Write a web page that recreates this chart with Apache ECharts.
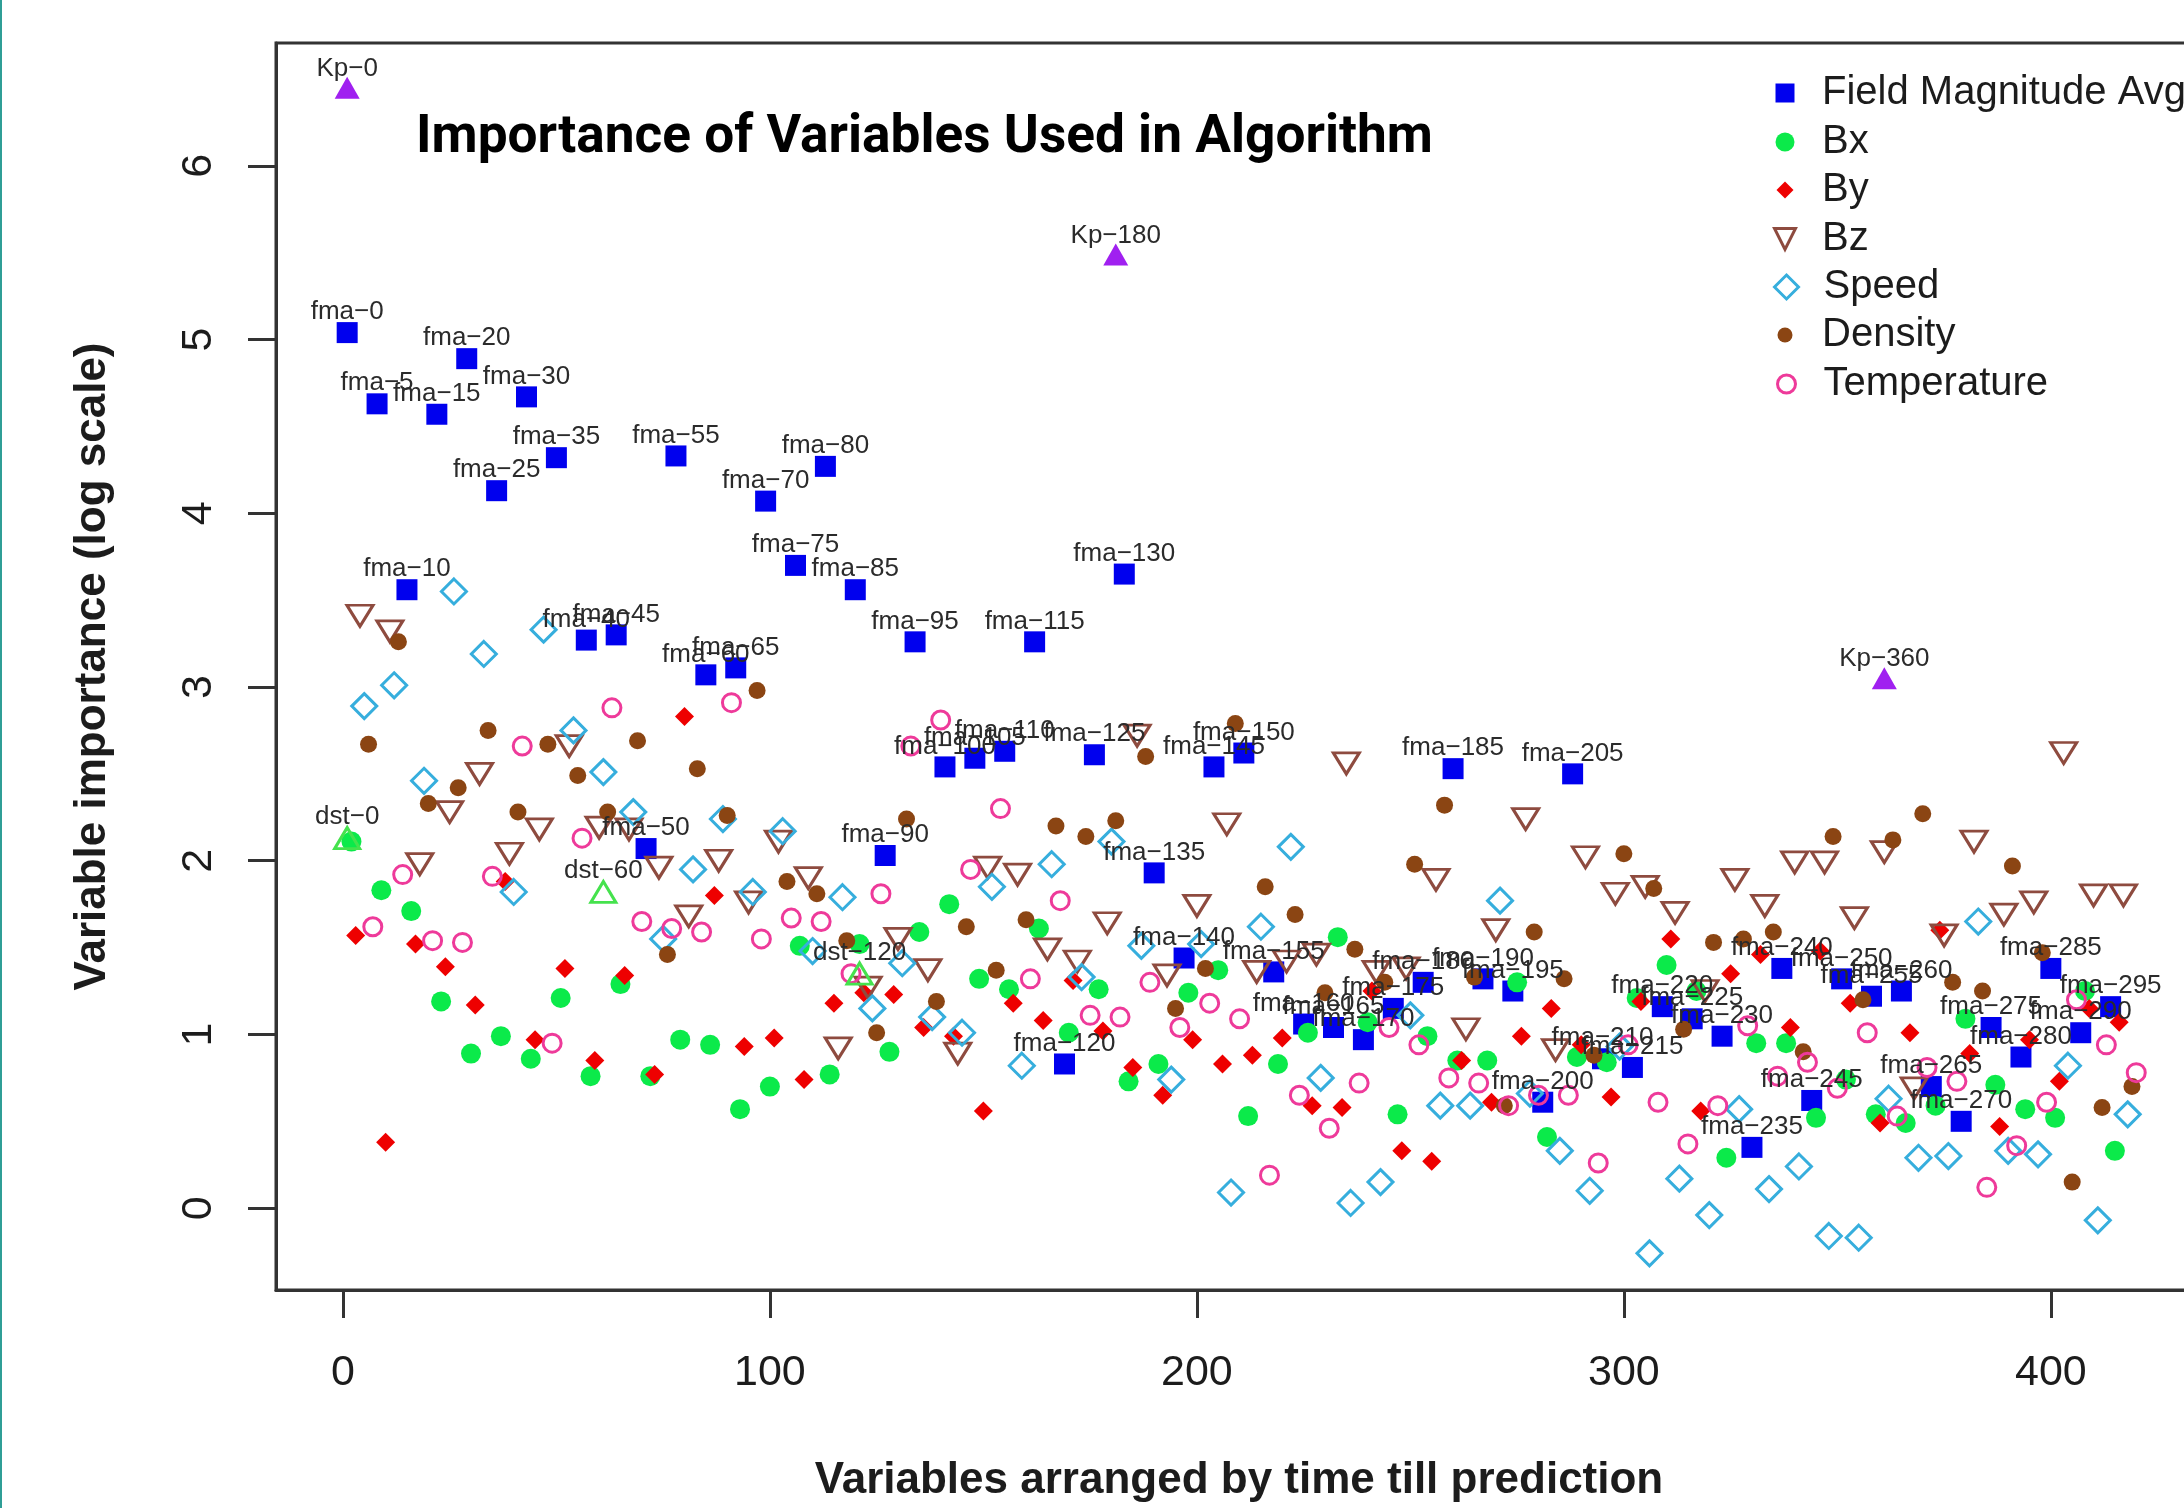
<!DOCTYPE html>
<html>
<head>
<meta charset="utf-8">
<title>Importance of Variables Used in Algorithm</title>
<script src="https://cdn.jsdelivr.net/npm/echarts@6/dist/echarts.min.js"></script>
<style>
html,body{margin:0;padding:0;background:#fff;overflow:hidden}
#stripe{position:absolute;left:0;top:0;width:2px;height:1508px;background:#2f9e96;z-index:5}
#chart{position:absolute;left:0;top:0;width:2184px;height:1508px}
</style>
</head>
<body>
<div id="stripe"></div>
<div id="chart"></div>
<script>
const xTicks = [0, 100, 200, 300, 400];
const yTicks = [0, 1, 2, 3, 4, 5, 6];

const chartTitle = 'Importance of Variables Used in Algorithm';
const xAxisTitle = 'Variables arranged by time till prediction';
const yAxisTitle = 'Variable importance (log scale)';

const fmaLabels = ['fma−0','fma−5','fma−10','fma−15','fma−20','fma−25','fma−30','fma−35','fma−40','fma−45',
  'fma−50','fma−55','fma−60','fma−65','fma−70','fma−75','fma−80','fma−85','fma−90','fma−95',
  'fma−100','fma−105','fma−110','fma−115','fma−120','fma−125','fma−130','fma−135','fma−140','fma−145',
  'fma−150','fma−155','fma−160','fma−165','fma−170','fma−175','fma−180','fma−185','fma−190','fma−195',
  'fma−200','fma−205','fma−210','fma−215','fma−220','fma−225','fma−230','fma−235','fma−240','fma−245',
  'fma−250','fma−255','fma−260','fma−265','fma−270','fma−275','fma−280','fma−285','fma−290','fma−295'];

const fieldMagnitudeAvg = [5.04,4.63,3.56,4.57,4.89,4.13,4.67,4.32,3.27,3.30,
  2.07,4.33,3.07,3.11,4.07,3.70,4.27,3.56,2.03,3.26,
  2.54,2.59,2.63,3.26,0.83,2.61,3.65,1.93,1.44,2.54,
  2.62,1.36,1.06,1.04,0.97,1.15,1.30,2.53,1.32,1.25,
  0.61,2.50,0.86,0.81,1.16,1.09,0.99,0.35,1.38,0.62,
  1.32,1.22,1.25,0.70,0.50,1.04,0.87,1.38,1.01,1.16];

const bx = [2.11,1.83,1.71,1.19,0.89,0.99,0.86,1.21,0.76,1.29,
  0.76,0.97,0.94,0.57,0.70,1.51,0.77,1.52,0.90,1.59,
  1.75,1.32,1.26,1.61,1.01,1.26,0.73,0.83,1.24,1.37,
  0.53,0.83,1.01,1.56,1.07,0.54,0.99,0.85,0.85,1.30,
  0.41,0.87,0.84,1.21,1.40,1.25,0.29,0.95,0.95,0.52,
  0.74,0.54,0.49,0.59,1.09,0.71,0.57,0.52,1.25,0.33];

const by = [1.57,0.38,1.52,1.39,1.17,1.88,0.97,1.38,0.85,1.34,
  0.77,2.83,1.80,0.93,0.98,0.74,1.18,1.24,1.23,1.04,
  0.99,0.56,1.18,1.08,1.31,1.02,0.81,0.65,0.97,0.83,
  0.88,0.98,0.59,0.58,1.25,0.33,0.27,0.85,0.61,0.99,
  1.15,0.94,0.64,1.19,1.55,0.56,1.35,1.46,1.04,1.48,
  1.18,0.49,1.01,1.60,0.89,0.47,0.97,0.73,1.15,1.07];

const bz = [3.41,3.32,1.98,2.28,2.50,2.04,2.18,2.66,2.19,2.18,
  1.96,1.68,2.00,1.76,2.11,1.90,0.92,1.27,1.55,1.37,
  0.89,1.96,1.92,1.49,1.42,1.64,2.72,1.34,1.74,2.21,
  1.36,1.42,1.46,2.56,1.36,1.38,1.89,1.03,1.60,2.24,
  0.91,2.02,1.81,1.85,1.70,1.25,1.89,1.74,1.99,1.99,
  1.67,2.05,0.69,1.57,2.11,1.69,1.76,2.62,1.80,1.80];

const speed = [2.89,3.01,2.46,3.55,3.19,1.82,3.33,2.75,2.51,2.28,
  1.55,1.95,2.24,1.82,2.17,1.48,1.79,1.15,1.41,1.10,
  1.01,1.85,0.82,1.98,1.33,2.11,1.51,0.74,1.52,0.09,
  1.62,2.08,0.75,0.03,0.15,1.11,0.59,0.59,1.77,0.66,
  0.33,0.10,0.93,-0.26,0.17,-0.04,0.57,0.11,0.24,-0.16,
  -0.17,0.63,0.29,0.30,1.65,0.33,0.31,0.82,-0.07,0.54];

const density = [2.67,3.26,2.33,2.42,2.75,2.28,2.67,2.49,2.28,2.69,
  1.46,2.53,2.26,2.98,1.88,1.81,1.54,1.01,2.24,1.19,
  1.62,1.37,1.66,2.20,2.14,2.23,2.60,1.15,1.38,2.79,
  1.85,1.69,1.24,1.49,1.30,1.98,2.32,1.33,0.59,1.59,
  1.32,0.88,2.04,1.84,1.03,1.53,1.55,1.59,0.90,2.14,
  1.20,2.12,2.27,1.30,1.25,1.97,1.47,0.15,0.58,0.70];

const temperature = [1.62,1.92,1.54,1.53,1.91,2.66,0.95,2.13,2.88,1.65,
  1.61,1.59,2.91,1.55,1.67,1.65,1.35,1.81,2.66,2.81,
  1.95,2.30,1.32,1.77,1.11,1.10,1.30,1.04,1.18,1.09,
  0.19,0.65,0.46,0.72,1.04,0.94,0.75,0.72,0.59,0.65,
  0.65,0.26,0.94,0.61,0.37,0.59,1.05,0.76,0.84,0.69,
  1.01,0.53,0.81,0.73,0.12,0.36,0.61,1.20,0.94,0.78];

const kpLabels = ['Kp−0','Kp−180','Kp−360'];
const kpIndex = [1, 181, 361];
const kpValues = [6.45, 5.49, 3.05];

const dstLabels = ['dst−0','dst−60','dst−120'];
const dstIndex = [1, 61, 121];
const dstValues = [2.13, 1.82, 1.35];

const legendNames = ['Field Magnitude Avg','Bx','By','Bz','Speed','Density','Temperature'];

function slotted(values, firstIndex) {
  return values.map((v, i) => [firstIndex + 7 * i, v]);
}
function paired(xs, ys) {
  return xs.map((x, i) => [x, ys[i]]);
}

const hollow = (c, w) => ({color: 'rgba(255,255,255,0)', borderColor: c, borderWidth: w, opacity: 1});
const filled = c => ({color: c, borderWidth: 0, opacity: 1});

const C = {blue:'#0000EE', green:'#0BEA4A', red:'#EE0000', bz:'#8E4B3F', speed:'#36AEDD',
           density:'#8B4513', temp:'#EE3A9A', kp:'#A020F0', dst:'#45E24D', ink:'#1c1c1c', label:'#2b2b2b'};

const textLabel = (names, dist) => ({
  show: true, position: 'top', distance: dist, fontFamily: 'Liberation Sans', fontSize: 26,
  color: C.label, formatter: p => names[p.dataIndex]
});

const series = [
  {name: legendNames[0], data: slotted(fieldMagnitudeAvg, 1), symbol: 'rect', symbolSize: 21,
   itemStyle: filled(C.blue), label: textLabel(fmaLabels, -3)},
  {name: legendNames[1], data: slotted(bx, 2), symbol: 'circle', symbolSize: 20, itemStyle: filled(C.green)},
  {name: legendNames[2], data: slotted(by, 3), symbol: 'diamond', symbolSize: 19, itemStyle: filled(C.red)},
  {name: legendNames[3], data: slotted(bz, 4), symbol: 'triangle', symbolRotate: 180, symbolSize: [26, 21],
   itemStyle: hollow(C.bz, 3)},
  {name: legendNames[4], data: slotted(speed, 5), symbol: 'diamond', symbolSize: 25, itemStyle: hollow(C.speed, 3)},
  {name: legendNames[5], data: slotted(density, 6), symbol: 'circle', symbolSize: 17, itemStyle: filled(C.density)},
  {name: legendNames[6], data: slotted(temperature, 7), symbol: 'circle', symbolSize: 18, itemStyle: hollow(C.temp, 3)},
  {name: 'Kp', data: paired(kpIndex, kpValues), symbol: 'triangle', symbolSize: [25, 22],
   itemStyle: filled(C.kp), label: textLabel(kpLabels, -5)},
  {name: 'dst', data: paired(dstIndex, dstValues), symbol: 'triangle', symbolSize: [25, 21],
   itemStyle: hollow(C.dst, 3), label: textLabel(dstLabels, -4)}
].map(s => Object.assign({type: 'scatter', silent: true, clip: false}, s));

const legendIcons = [
  {w: 19, h: 19, style: filled(C.blue)},
  {w: 19, h: 19, style: filled(C.green)},
  {w: 17, h: 17, style: filled(C.red)},
  {w: 24, h: 21, style: hollow(C.bz, 3), icon: 'path://M0 0L10 0L5 10Z'},
  {w: 24, h: 24, style: hollow(C.speed, 3)},
  {w: 15, h: 15, style: filled(C.density)},
  {w: 18, h: 18, style: hollow(C.temp, 3)}
];
const legendCenters = [93, 142, 190, 239, 287, 335, 384];
const ICON_CENTER = 1785, TEXT_LEFT = 1822;

const legends = legendNames.map((name, i) => {
  const ic = legendIcons[i];
  const textPad = TEXT_LEFT - (ICON_CENTER + ic.w / 2 + 5);
  const item = {name: name, itemStyle: ic.style};
  if (ic.icon) item.icon = ic.icon;
  return {
    show: true, orient: 'horizontal', left: ICON_CENTER - ic.w / 2, top: legendCenters[i] - 22, padding: 0,
    itemWidth: ic.w, itemHeight: ic.h, selectedMode: false,
    textStyle: {fontFamily: 'Liberation Sans', fontSize: 40, color: C.ink, lineHeight: 44, height: 44, padding: [0, 0, 0, textPad]},
    data: [item]
  };
});

const GRID = {left: 276, top: 43, width: 1926, height: 1247};

const axisStroke = {color: '#333333', width: 3};

const option = {
  animation: false,
  backgroundColor: '#ffffff',
  title: {
    text: chartTitle, left: 416, top: 112, padding: 0,
    textStyle: {fontFamily: 'Roboto', fontWeight: 'bold', fontSize: 53.2, color: '#000000'}
  },
  legend: legends,
  grid: Object.assign({show: true, borderColor: '#333333', borderWidth: 3, backgroundColor: 'transparent', containLabel: false, outerBoundsMode: 'none'}, GRID),
  xAxis: {
    type: 'value', min: -15.67, max: 435.4,
    name: xAxisTitle, nameLocation: 'middle', nameGap: 169,
    nameTextStyle: {fontFamily: 'Liberation Sans', fontWeight: 'bold', fontSize: 44, color: C.ink},
    axisLine: {show: true, onZero: false, lineStyle: axisStroke},
    axisTick: {show: true, length: 28, lineStyle: axisStroke, customValues: xTicks},
    axisLabel: {margin: 62, fontFamily: 'Liberation Sans', fontSize: 43, color: C.ink, customValues: xTicks},
    splitLine: {show: false}
  },
  yAxis: {
    type: 'value', min: -0.471, max: 6.707,
    name: yAxisTitle, nameLocation: 'middle', nameGap: 161, nameRotate: 90,
    nameTextStyle: {fontFamily: 'Liberation Sans', fontWeight: 'bold', fontSize: 44, color: C.ink},
    axisLine: {show: true, onZero: false, lineStyle: axisStroke},
    axisTick: {show: true, length: 28, lineStyle: axisStroke, customValues: yTicks},
    axisLabel: {margin: 55, rotate: 90, fontFamily: 'Liberation Sans', fontSize: 43, color: C.ink, customValues: yTicks},
    splitLine: {show: false}
  },
  series: series
};

const chart = echarts.init(document.getElementById('chart'), null, {renderer: 'canvas', width: 2184, height: 1508});
chart.setOption(option);
</script>
</body>
</html>
